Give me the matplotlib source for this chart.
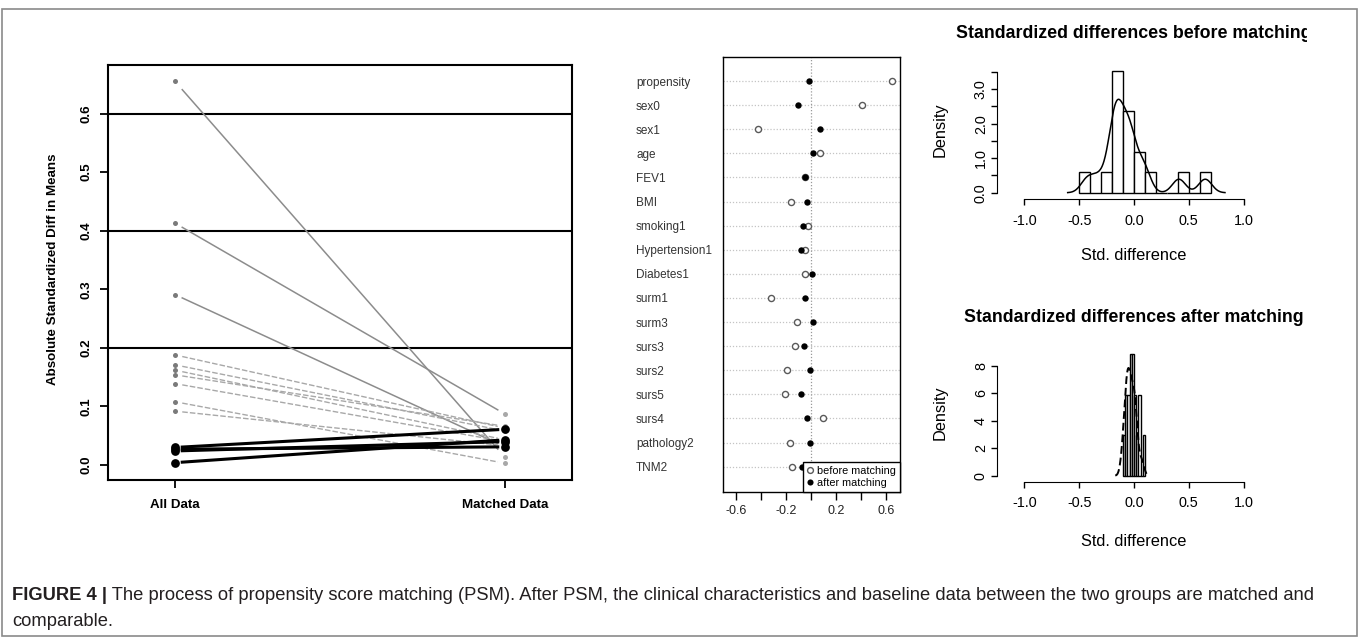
import numpy as np
import matplotlib
matplotlib.use("Agg")
import matplotlib.pyplot as plt
from matplotlib.lines import Line2D
from matplotlib.patches import Rectangle

plt.rcParams['font.family'] = ['Liberation Sans', 'DejaVu Sans']
plt.rcParams['axes.unicode_minus'] = False

W, H = 1360, 637

# ---------------- data ----------------
groups = ["All Data", "Matched Data"]
# gray lines (balance improved): All Data -> Matched Data
gray_all = [0.655, 0.413, 0.291, 0.188, 0.171, 0.162, 0.154, 0.139, 0.108, 0.092]
gray_matched = [0.013, 0.087, 0.031, 0.063, 0.058, 0.043, 0.066, 0.040, 0.003, 0.033]
# black lines (balance worsened)
black_all = [0.030, 0.027, 0.024, 0.004]
black_matched = [0.061, 0.031, 0.040, 0.043]
ref_lines = [0.2, 0.4, 0.6]
left_yticks = [0.0, 0.1, 0.2, 0.3, 0.4, 0.5, 0.6]

variables = ["propensity", "sex0", "sex1", "age", "FEV1", "BMI", "smoking1",
             "Hypertension1", "Diabetes1", "surm1", "surm3", "surs3", "surs2",
             "surs5", "surs4", "pathology2", "TNM2"]
before = [0.650, 0.410, -0.425, 0.070, -0.045, -0.160, -0.020, -0.045, -0.045,
          -0.320, -0.115, -0.130, -0.190, -0.210, 0.100, -0.170, -0.155]
after = [-0.012, -0.105, 0.070, 0.020, -0.050, -0.030, -0.060, -0.080, 0.010,
         -0.050, 0.020, -0.052, -0.005, -0.080, -0.032, -0.010, -0.070]
mid_ticks = [-0.6, -0.4, -0.2, 0.0, 0.2, 0.4, 0.6]
mid_ticklabels = ["-0.6", "", "-0.2", "", "0.2", "", "0.6"]

hist_before_edges = [-0.5, -0.4, -0.3, -0.2, -0.1, 0.0, 0.1, 0.2, 0.3, 0.4, 0.5, 0.6, 0.7]
hist_before_counts = [1, 0, 1, 6, 4, 2, 1, 0, 0, 1, 0, 1]
hist_after_edges = [-0.10, -0.08, -0.06, -0.04, -0.02, 0.00, 0.02, 0.04, 0.06, 0.08, 0.10]
hist_after_counts = [1, 2, 2, 3, 3, 2, 1, 2, 0, 1]
hist_xticks = [-1.0, -0.5, 0.0, 0.5, 1.0]
hist_xticklabels = ["-1.0", "-0.5", "0.0", "0.5", "1.0"]
top_yticks = [0.0, 0.5, 1.0, 1.5, 2.0, 2.5, 3.0, 3.5]
top_yticklabels = ["0.0", "", "1.0", "", "2.0", "", "3.0", ""]
bot_yticks = [0, 2, 4, 6, 8]
bot_yticklabels = ["0", "2", "4", "6", "8"]

caption_bold = "FIGURE 4 |"
caption_line1 = (" The process of propensity score matching (PSM). After PSM, the clinical "
                 "characteristics and baseline data between the two groups are matched and")
caption_line2 = "comparable."

# ---------------- helpers ----------------
fig = plt.figure(figsize=(W / 100, H / 100), dpi=100)


def ax_at(l, t, r, b):
    return fig.add_axes([l / W, 1 - b / H, (r - l) / W, (b - t) / H])


def fx(x):
    return x / W


def fy(y):
    return 1 - y / H


def kde(vals, bw):
    v = np.asarray(vals)
    g = np.linspace(v.min() - 3 * bw, v.max() + 3 * bw, 512)
    d = np.exp(-0.5 * ((g[:, None] - v[None, :]) / bw) ** 2).sum(axis=1)
    d /= (len(v) * bw * np.sqrt(2 * np.pi))
    return g, d


# ---------------- outer frame ----------------
fig.patches.append(Rectangle((fx(2), fy(636)), fx(1355), (636 - 9) / H,
                             transform=fig.transFigure, fill=False,
                             edgecolor='#8a8a8a', lw=1.2, zorder=20))

# ---------------- left panel ----------------
ax1 = ax_at(108, 65, 572, 480)
ax1.set_xlim(0.797, 2.203)
ax1.set_ylim(-0.0256, 0.683)
gap = 0.022
for i, (a, m) in enumerate(zip(gray_all, gray_matched)):
    d = m - a
    if a > 0.2:
        ax1.plot([1 + gap, 2 - gap], [a + gap * d, m - gap * d], color='#8c8c8c', lw=1.1, zorder=2)
    else:
        ax1.plot([1 + gap, 2 - gap], [a + gap * d, m - gap * d], color='#a8a8a8', lw=1.0,
                 ls=(0, (4, 1.5)), zorder=2)
for a, m in zip(black_all, black_matched):
    d = m - a
    ax1.plot([1 + gap, 2 - gap], [a + gap * d, m - gap * d], color='black', lw=2.2, zorder=3)
ax1.plot([1] * len(gray_all), gray_all, 'o', color='#7a7a7a', ms=3.6, mew=0, zorder=4)
ax1.plot([2] * len(gray_matched), gray_matched, 'o', color='#a8a8a8', ms=3.6, mew=0, zorder=4)
ax1.plot([1] * len(black_all), black_all, 'o', color='black', ms=6.3, mew=0, zorder=5)
ax1.plot([2] * len(black_matched), black_matched, 'o', color='black', ms=6.3, mew=0, zorder=5)
for r in ref_lines:
    ax1.axhline(r, color='black', lw=1.5, zorder=1)
ax1.set_yticks(left_yticks)
ax1.set_yticklabels([f"{t:.1f}" for t in left_yticks], rotation=90, va='center',
                    fontweight='bold', fontsize=9.6)
ax1.set_xticks([1, 2])
ax1.set_xticklabels(groups, fontweight='bold', fontsize=9.6)
ax1.tick_params(axis='y', direction='out', length=6, width=1.3, pad=5)
ax1.tick_params(axis='x', direction='out', length=6, width=1.3, pad=7.5)
for s in ax1.spines.values():
    s.set_linewidth(1.5)
fig.text(fx(53), fy(269), "Absolute Standardized Diff in Means", rotation=90,
         ha='center', va='center', fontweight='bold', fontsize=9.6)

# ---------------- middle dot plot ----------------
ax2 = ax_at(722.7, 57, 900, 492)
n = len(variables)
ypos = np.arange(n, 0, -1)
ax2.set_xlim(-0.706, 0.712)
ax2.set_ylim(-0.05, 18.0)
for y in ypos:
    ax2.axhline(y, color='#c4c4c4', lw=0.9, ls=(0, (1, 1.5)), zorder=1)
ax2.axvline(0, color='#9a9a9a', lw=0.9, ls=(0, (1, 1.5)), zorder=1)
ax2.plot(before, ypos, 'o', mfc='white', mec='#5a5a5a', mew=1.0, ms=4.4, ls='none', zorder=3)
ax2.plot(after, ypos, 'o', color='black', ms=4.6, mew=0, ls='none', zorder=4)
ax2.set_yticks(ypos)
ax2.set_yticklabels(variables, ha='left', fontsize=8.5, color='#333333')
ax2.tick_params(axis='y', length=0, pad=62.4)
ax2.set_xticks(mid_ticks)
ax2.set_xticklabels(mid_ticklabels, fontsize=9, color='#222222')
ax2.tick_params(axis='x', direction='out', length=5.5, width=1.0, pad=4)
for s in ax2.spines.values():
    s.set_linewidth(1.0)
handles = [Line2D([], [], marker='o', ls='none', mfc='white', mec='#5a5a5a', mew=1.0, ms=4.2),
           Line2D([], [], marker='o', ls='none', color='black', ms=4.4, mew=0)]
leg = ax2.legend(handles, ["before matching", "after matching"], loc='lower right',
                 fontsize=7.8, frameon=True, fancybox=False, framealpha=1, edgecolor='black',
                 borderaxespad=0, handlelength=0.7, handletextpad=0.3, borderpad=0.35,
                 labelspacing=0.2)
leg.get_frame().set_linewidth(1.0)
leg.set_zorder(6)


# ---------------- histograms ----------------
def hist_panel(t, b, edges, counts, vals, bw, yticks, yticklabels, ylim, title, title_y,
               dens_y, xl_y, dashed=False):
    ax = ax_at(997, t, 1271, b)
    edges = np.asarray(edges)
    widths = np.diff(edges)
    dens = np.asarray(counts) / (sum(counts) * widths)
    ax.bar(edges[:-1], dens, width=widths, align='edge', facecolor='white',
           edgecolor='black', lw=1.0, zorder=2)
    g, d = kde(vals, bw)
    ax.plot(g, d, color='black', lw=1.1 if not dashed else 1.4,
            ls='-' if not dashed else (0, (4, 2)), zorder=3)
    ax.set_xlim(-1.25, 1.25)
    ax.set_ylim(*ylim)
    for s in ['top', 'right']:
        ax.spines[s].set_visible(False)
    ax.spines['left'].set_bounds(yticks[0], yticks[-1])
    ax.spines['bottom'].set_bounds(-1, 1)
    ax.set_xticks(hist_xticks)
    ax.set_xticklabels(hist_xticklabels, fontsize=10.4)
    ax.set_yticks(yticks)
    ax.set_yticklabels(yticklabels, rotation=90, va='center', fontsize=10.4)
    ax.tick_params(axis='x', direction='out', length=4.5, width=1.0, pad=6)
    ax.tick_params(axis='y', direction='out', length=4.5, width=1.0, pad=2)
    ax.patch.set_visible(False)
    fig.text(fx(1134), fy(title_y), title, ha='center', va='center',
             fontweight='bold', fontsize=12.8, zorder=3)
    fig.text(fx(940), fy(dens_y), "Density", rotation=90, ha='center', va='center', fontsize=11.8)
    fig.text(fx(1134), fy(xl_y), "Std. difference", ha='center', va='center', fontsize=11.8)
    return ax


hist_panel(66, 199.3, hist_before_edges, hist_before_counts, before, 0.06,
           top_yticks, top_yticklabels, (-0.19, 3.67),
           "Standardized differences before matching", 33, 130, 256)
hist_panel(349.6, 481.7, hist_after_edges, hist_after_counts, after, 0.022,
           bot_yticks, bot_yticklabels, (-0.436, 9.17),
           "Standardized differences after matching", 318, 413, 541, dashed=True)

# the source image is cropped just right of the top title: cover that strip
fig.patches.append(Rectangle((fx(1307), fy(50)), (1354 - 1307) / W, 40 / H,
                             transform=fig.transFigure, facecolor='white',
                             edgecolor='none', zorder=10))

# ---------------- caption ----------------
cap_size = 13.2
t1 = fig.text(fx(12), fy(595), caption_bold, ha='left', va='center', fontweight='bold',
              fontsize=cap_size, color='#231f20')
fig.canvas.draw()
r = fig.canvas.get_renderer()
bb = t1.get_window_extent(renderer=r)
fig.text(bb.x1 / W, fy(595), caption_line1, ha='left', va='center', fontsize=cap_size,
         color='#231f20')
fig.text(fx(12), fy(621), caption_line2, ha='left', va='center', fontsize=cap_size,
         color='#231f20')

fig.savefig("out.png", dpi=100)
